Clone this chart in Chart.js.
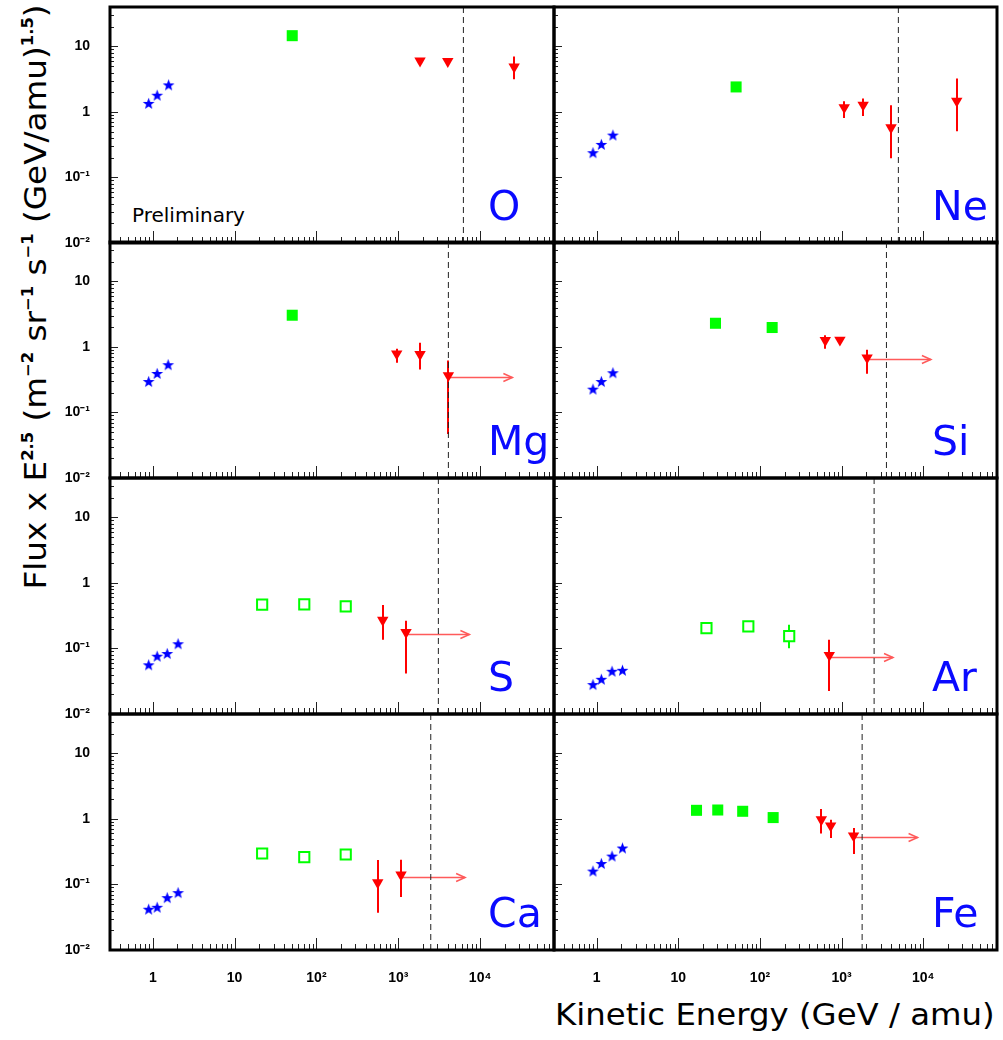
<!DOCTYPE html>
<html><head><meta charset="utf-8">
<script src="https://cdn.jsdelivr.net/npm/chart.js@4/dist/chart.umd.min.js"></script>
<style>
html,body{margin:0;padding:0;background:#fff;}
body{width:1003px;height:1040px;position:relative;overflow:hidden;font-family:'DejaVu Sans',sans-serif;}
canvas{position:absolute;}
.elem{position:absolute;color:#0a0aff;font-family:'DejaVu Sans',sans-serif;font-size:41px;line-height:1;white-space:nowrap;}
#prelim{position:absolute;color:#000;font-family:'DejaVu Sans',sans-serif;font-size:20px;line-height:1;white-space:nowrap;}
#ytitle{position:absolute;font-family:'DejaVu Sans',sans-serif;font-size:30px;line-height:1;white-space:nowrap;color:#000;}
#ytitle sup,#xtitle sup{font-size:15px;font-weight:bold;vertical-align:13px;}
#xtitle{position:absolute;font-family:'DejaVu Sans',sans-serif;font-size:30px;line-height:1;white-space:nowrap;color:#000;}
</style></head><body>
<div id="ytitle">Flux x E<sup>2.5</sup> (m<sup>−2</sup> sr<sup>−1</sup> s<sup>−1</sup> (GeV/amu)<sup>1.5</sup>)</div>
<div id="xtitle">Kinetic Energy (GeV / amu)</div>
<div id="prelim">Preliminary</div>
<script>
// ---------------- DATA ----------------
const panelNames = ['O','Ne','Mg','Si','S','Ar','Ca','Fe'];
const xTickValues = [1, 10, 100, 1000, 10000];
const xTickLabels = ['1', '10', '10²', '10³', '10⁴'];
const yTickValues = [0.01, 0.1, 1, 10];
const yTickLabels = ['10⁻²', '10⁻¹', '1', '10'];
const X_MIN = 0.3, X_MAX = 8e4, Y_MIN = 0.01, Y_MAX = 40;

// O
const O_starE = [0.89, 1.13, 1.56],  O_starF = [1.35, 1.80, 2.59];
const O_fillE = [50.6],              O_fillF = [14.6];
const O_openE = [],                  O_openF = [], O_openHi = [], O_openLo = [];
const O_triE = [1845, 4027, 26060],  O_triF = [6.04, 5.91, 4.89];
const O_triHi = [null, null, 7.05],  O_triLo = [null, null, 3.17];
const O_arrow = null;                const O_cut = 6250;
// Ne
const Ne_starE = [0.90, 1.14, 1.58], Ne_starF = [0.239, 0.32, 0.444];
const Ne_fillE = [51],               Ne_fillF = [2.41];
const Ne_openE = [],                 Ne_openF = [], Ne_openHi = [], Ne_openLo = [];
const Ne_triE = [1076, 1834, 4027, 25700], Ne_triF = [1.17, 1.28, 0.577, 1.47];
const Ne_triHi = [1.46, 1.60, 1.27, 3.25],  Ne_triLo = [0.81, 0.87, 0.197, 0.506];
const Ne_arrow = null;               const Ne_cut = 4955;
// Mg
const Mg_starE = [0.89, 1.13, 1.54], Mg_starF = [0.297, 0.394, 0.536];
const Mg_fillE = [50.6],             Mg_fillF = [3.05];
const Mg_openE = [],                 Mg_openF = [], Mg_openHi = [], Mg_openLo = [];
const Mg_triE = [957, 1845, 4096],   Mg_triF = [0.789, 0.77, 0.367];
const Mg_triHi = [0.94, 1.16, 0.623], Mg_triLo = [0.575, 0.454, 0.047];
const Mg_arrow = [4096, 24800, 0.35]; const Mg_cut = 4096;
// Si
const Si_starE = [0.90, 1.14, 1.58], Si_starF = [0.227, 0.297, 0.404];
const Si_fillE = [28.5, 141],        Si_fillF = [2.30, 1.98];
const Si_openE = [],                 Si_openF = [], Si_openHi = [], Si_openLo = [];
const Si_triE = [631, 953, 2051],    Si_triF = [1.26, 1.28, 0.686];
const Si_triHi = [1.51, null, 0.91], Si_triLo = [0.94, null, 0.39];
const Si_arrow = [2051, 12400, 0.646]; const Si_cut = 3540;
// S
const S_starE = [0.89, 1.13, 1.50, 2.04], S_starF = [0.0563, 0.0762, 0.0838, 0.118];
const S_fillE = [],                  S_fillF = [];
const S_openE = [21.7, 71, 228],     S_openF = [0.467, 0.472, 0.44];
const S_openHi = [null, null, null], S_openLo = [null, null, null];
const S_triE = [646, 1244],          S_triF = [0.271, 0.176];
const S_triHi = [0.46, 0.266],       S_triLo = [0.136, 0.0414];
const S_arrow = [1244, 7400, 0.166]; const S_cut = 3090;
// Ar
const Ar_starE = [0.90, 1.14, 1.54, 2.07], Ar_starF = [0.0281, 0.0339, 0.0449, 0.0465];
const Ar_fillE = [],                 Ar_fillF = [];
const Ar_openE = [22.1, 72, 228],    Ar_openF = [0.205, 0.217, 0.154];
const Ar_openHi = [null, null, 0.231], Ar_openLo = [null, null, 0.101];
const Ar_triE = [706],               Ar_triF = [0.0789];
const Ar_triHi = [0.136],            Ar_triLo = [0.0225];
const Ar_arrow = [706, 4260, 0.075]; const Ar_cut = 2500;
// Ca
const Ca_starE = [0.89, 1.13, 1.50, 2.04], Ca_starF = [0.0419, 0.0449, 0.063, 0.0751];
const Ca_fillE = [],                 Ca_fillF = [];
const Ca_openE = [21.7, 71, 228],    Ca_openF = [0.297, 0.262, 0.287];
const Ca_openHi = [null, null, 0.31], Ca_openLo = [null, null, 0.255];
const Ca_triE = [561, 1081],         Ca_triF = [0.107, 0.140];
const Ca_triHi = [0.236, 0.238],     Ca_triLo = [0.0371, 0.0646];
const Ca_arrow = [1081, 6560, 0.132]; const Ca_cut = 2495;
// Fe
const Fe_starE = [0.90, 1.14, 1.54, 2.07], Fe_starF = [0.16, 0.209, 0.271, 0.36];
const Fe_fillE = [16.7, 30.4, 61.4, 145],  Fe_fillF = [1.355, 1.37, 1.31, 1.05];
const Fe_openE = [],                 Fe_openF = [], Fe_openHi = [], Fe_openLo = [];
const Fe_triE = [564, 734, 1400],    Fe_triF = [0.976, 0.789, 0.555];
const Fe_triHi = [1.42, 0.976, 0.728], Fe_triLo = [0.601, 0.512, 0.291];
const Fe_arrow = [1400, 8520, 0.53]; const Fe_cut = 1783;

const panelData = {
  O:  {starE:O_starE, starF:O_starF, fillE:O_fillE, fillF:O_fillF, openE:O_openE, openF:O_openF, openHi:O_openHi, openLo:O_openLo, triE:O_triE, triF:O_triF, triHi:O_triHi, triLo:O_triLo, arrow:O_arrow, cut:O_cut},
  Ne: {starE:Ne_starE, starF:Ne_starF, fillE:Ne_fillE, fillF:Ne_fillF, openE:Ne_openE, openF:Ne_openF, openHi:Ne_openHi, openLo:Ne_openLo, triE:Ne_triE, triF:Ne_triF, triHi:Ne_triHi, triLo:Ne_triLo, arrow:Ne_arrow, cut:Ne_cut},
  Mg: {starE:Mg_starE, starF:Mg_starF, fillE:Mg_fillE, fillF:Mg_fillF, openE:Mg_openE, openF:Mg_openF, openHi:Mg_openHi, openLo:Mg_openLo, triE:Mg_triE, triF:Mg_triF, triHi:Mg_triHi, triLo:Mg_triLo, arrow:Mg_arrow, cut:Mg_cut},
  Si: {starE:Si_starE, starF:Si_starF, fillE:Si_fillE, fillF:Si_fillF, openE:Si_openE, openF:Si_openF, openHi:Si_openHi, openLo:Si_openLo, triE:Si_triE, triF:Si_triF, triHi:Si_triHi, triLo:Si_triLo, arrow:Si_arrow, cut:Si_cut},
  S:  {starE:S_starE, starF:S_starF, fillE:S_fillE, fillF:S_fillF, openE:S_openE, openF:S_openF, openHi:S_openHi, openLo:S_openLo, triE:S_triE, triF:S_triF, triHi:S_triHi, triLo:S_triLo, arrow:S_arrow, cut:S_cut},
  Ar: {starE:Ar_starE, starF:Ar_starF, fillE:Ar_fillE, fillF:Ar_fillF, openE:Ar_openE, openF:Ar_openF, openHi:Ar_openHi, openLo:Ar_openLo, triE:Ar_triE, triF:Ar_triF, triHi:Ar_triHi, triLo:Ar_triLo, arrow:Ar_arrow, cut:Ar_cut},
  Ca: {starE:Ca_starE, starF:Ca_starF, fillE:Ca_fillE, fillF:Ca_fillF, openE:Ca_openE, openF:Ca_openF, openHi:Ca_openHi, openLo:Ca_openLo, triE:Ca_triE, triF:Ca_triF, triHi:Ca_triHi, triLo:Ca_triLo, arrow:Ca_arrow, cut:Ca_cut},
  Fe: {starE:Fe_starE, starF:Fe_starF, fillE:Fe_fillE, fillF:Fe_fillF, openE:Fe_openE, openF:Fe_openF, openHi:Fe_openHi, openLo:Fe_openLo, triE:Fe_triE, triF:Fe_triF, triHi:Fe_triHi, triLo:Fe_triLo, arrow:Fe_arrow, cut:Fe_cut}
};

// ---------------- LAYOUT / STYLE ----------------
const COL_X = [110, 554], COL_W = [444, 443];
const ROW_Y = [7, 242, 478, 714], ROW_H = 236;
const BLUE = '#0000ff', GREEN = '#00ff00', RED = '#ff0000', ARROW = '#ff5a5a';
const TICK_FONT = {family: "'Liberation Sans', Arial, sans-serif", size: 14, weight: 'bold'};

function makeStar(r, color) {
  const s = Math.ceil(r * 2 + 2);
  const c = document.createElement('canvas');
  c.width = s; c.height = s;
  const g = c.getContext('2d');
  g.fillStyle = color;
  g.beginPath();
  for (let i = 0; i < 10; i++) {
    const rr = (i % 2) ? r * 0.42 : r;
    const a = -Math.PI / 2 + i * Math.PI / 5;
    g.lineTo(s / 2 + rr * Math.cos(a), s / 2 + 0.5 + rr * Math.sin(a));
  }
  g.closePath();
  g.fill();
  return c;
}
const starImg = makeStar(6.2, BLUE);

function pts(E, F) { return E.map((e, i) => ({x: e, y: F[i]})); }

function decoPlugin(d) {
  return {
    id: 'deco',
    beforeDatasetsDraw(chart) {
      const ctx = chart.ctx, xs = chart.scales.x, ys = chart.scales.y;
      const a = chart.chartArea;
      ctx.save();
      ctx.beginPath(); ctx.rect(a.left, a.top, a.right - a.left, a.bottom - a.top); ctx.clip();
      function vbar(E, hi, lo, color) {
        E.forEach((e, i) => {
          if (hi[i] == null || lo[i] == null) return;
          const px = Math.round(xs.getPixelForValue(e));
          ctx.strokeStyle = color; ctx.lineWidth = 2;
          ctx.beginPath();
          ctx.moveTo(px, ys.getPixelForValue(hi[i]));
          ctx.lineTo(px, ys.getPixelForValue(lo[i]));
          ctx.stroke();
        });
      }
      vbar(d.triE, d.triHi, d.triLo, RED);
      vbar(d.openE, d.openHi, d.openLo, GREEN);
      if (d.arrow) {
        const x1 = xs.getPixelForValue(d.arrow[0]), x2 = xs.getPixelForValue(d.arrow[1]);
        const y = Math.round(ys.getPixelForValue(d.arrow[2])) + 0.5;
        ctx.strokeStyle = ARROW; ctx.lineWidth = 1.5;
        ctx.beginPath(); ctx.moveTo(x1, y); ctx.lineTo(x2, y); ctx.stroke();
        ctx.beginPath(); ctx.moveTo(x2 - 9, y - 4); ctx.lineTo(x2, y); ctx.lineTo(x2 - 9, y + 4); ctx.stroke();
      }
      ctx.restore();
    },
    afterDraw(chart) {
      const ctx = chart.ctx, xs = chart.scales.x, ys = chart.scales.y;
      const a = chart.chartArea;
      ctx.save();
      ctx.strokeStyle = '#222'; ctx.lineWidth = 1;
      for (let k = -1; k <= 4; k++) {
        for (let m = 1; m <= 9; m++) {
          const v = m * Math.pow(10, k);
          if (v < X_MIN || v > X_MAX) continue;
          const px = Math.round(xs.getPixelForValue(v)) + 0.5;
          const len = m === 1 ? 12 : 6;
          ctx.beginPath(); ctx.moveTo(px, a.bottom); ctx.lineTo(px, a.bottom - len); ctx.stroke();
        }
      }
      for (let k = -2; k <= 1; k++) {
        for (let m = 1; m <= 9; m++) {
          const v = m * Math.pow(10, k);
          if (v < Y_MIN || v > Y_MAX) continue;
          const py = Math.round(ys.getPixelForValue(v)) + 0.5;
          const len = m === 1 ? 8 : 4;
          ctx.beginPath(); ctx.moveTo(a.left, py); ctx.lineTo(a.left + len, py); ctx.stroke();
        }
      }
      ctx.strokeStyle = '#000'; ctx.lineWidth = 3;
      ctx.strokeRect(a.left, a.top, a.right - a.left, a.bottom - a.top);
      ctx.restore();
    }
  };
}

panelNames.forEach((name, idx) => {
  const d = panelData[name];
  const row = Math.floor(idx / 2), col = idx % 2;
  const showX = row === 3, showY = col === 0;
  const cv = document.createElement('canvas');
  const left = col === 0 ? 0 : COL_X[1] - 4;
  const width = col === 0 ? COL_X[0] + COL_W[0] + 4 : COL_W[1] + 8;
  const top = ROW_Y[row] - 4;
  const height = 4 + ROW_H + (showX ? 50 : 4);
  cv.width = width; cv.height = height;
  cv.style.left = left + 'px'; cv.style.top = top + 'px';
  cv.style.width = width + 'px'; cv.style.height = height + 'px';
  document.body.appendChild(cv);

  const datasets = [
    {label: 'stars', data: pts(d.starE, d.starF), pointStyle: starImg, pointRadius: 6, backgroundColor: BLUE, borderColor: BLUE},
    {label: 'filled', data: pts(d.fillE, d.fillF), pointStyle: 'rect', pointRadius: 7.8, backgroundColor: GREEN, borderColor: GREEN, borderWidth: 0},
    {label: 'open', data: pts(d.openE, d.openF), pointStyle: 'rect', pointRadius: 7.2, backgroundColor: '#ffffff', borderColor: GREEN, borderWidth: 2},
    {label: 'tri', data: pts(d.triE, d.triF), pointStyle: 'triangle', pointRotation: 180, pointRadius: 6.6, backgroundColor: RED, borderColor: RED, borderWidth: 0},
    {type: 'line', label: 'cut', data: [{x: d.cut, y: Y_MIN}, {x: d.cut, y: Y_MAX}], showLine: true, borderColor: '#222', borderWidth: 1, borderDash: [6, 4], pointRadius: 0, fill: false}
  ];

  new Chart(cv, {
    type: 'scatter',
    data: {datasets},
    options: {
      responsive: false, animation: false, devicePixelRatio: 1, events: [],
      layout: {autoPadding: false, padding: {left: showY ? 0 : 4, right: 4, top: 4, bottom: showX ? 0 : 4}},
      plugins: {legend: {display: false}, tooltip: {enabled: false}},
      scales: {
        x: {
          type: 'logarithmic', min: X_MIN, max: X_MAX, position: 'bottom',
          display: showX,
          grid: {display: false, drawTicks: false, tickLength: 0}, border: {display: false},
          afterBuildTicks: s => { s.ticks = xTickValues.map(v => ({value: v})); },
          afterFit: s => { s.height = showX ? 50 : 0; s.paddingLeft = 0; s.paddingRight = 0; },
          ticks: {autoSkip: false, maxRotation: 0, padding: 20, color: '#000', font: TICK_FONT,
                  callback: (v, i) => xTickLabels[i]}
        },
        y: {
          type: 'logarithmic', min: Y_MIN, max: Y_MAX, position: 'left',
          display: showY,
          grid: {display: false, drawTicks: false, tickLength: 0}, border: {display: false},
          afterBuildTicks: s => { s.ticks = yTickValues.map(v => ({value: v})); },
          afterFit: s => { s.width = showY ? COL_X[0] : 0; s.paddingTop = 0; s.paddingBottom = 0; },
          ticks: {autoSkip: false, padding: 20, color: '#000', font: TICK_FONT,
                  callback: (v, i) => yTickLabels[i]}
        }
      }
    },
    plugins: [decoPlugin(d)]
  });

  const lbl = document.createElement('div');
  lbl.className = 'elem';
  lbl.textContent = name;
  lbl.style.left = (COL_X[col] + 378) + 'px';
  lbl.style.top = (ROW_Y[row] + ROW_H - 57) + 'px';
  document.body.appendChild(lbl);
});

// Titles and note
const prelim = document.getElementById('prelim');
prelim.style.left = '132px'; prelim.style.top = '205px';

const yt = document.getElementById('ytitle');
const yw = yt.offsetWidth, yh = yt.offsetHeight;
const ysc = 585 / yw;
yt.style.left = (35 - yw / 2) + 'px';
yt.style.top = (297 - yh / 2) + 'px';
yt.style.transform = 'rotate(-90deg) scaleX(' + ysc + ')';

const xt = document.getElementById('xtitle');
const xw = xt.offsetWidth;
const xsF = 440 / xw;
xt.style.left = (995 - xw) + 'px';
xt.style.top = '1000px';
xt.style.transformOrigin = 'right center';
xt.style.transform = 'scaleX(' + xsF + ')';
</script>
</body></html>
